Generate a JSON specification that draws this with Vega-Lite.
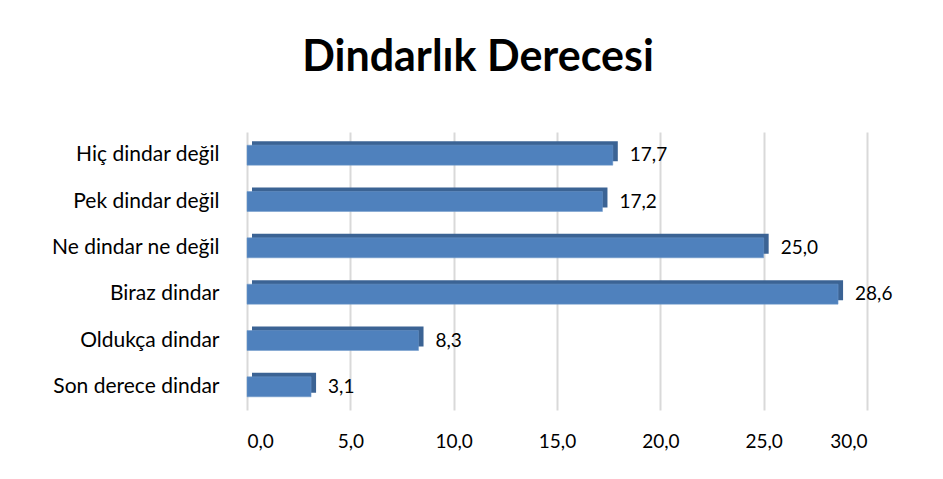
{
  "$schema": "https://vega.github.io/schema/vega-lite/v6.json",
  "width": 620,
  "height": 278,
  "padding": {"left": 47, "top": 37, "right": 5, "bottom": 5},
  "background": "white",
  "config": {
    "locale": {"number": {"decimal": ",", "thousands": ".", "grouping": [3], "currency": ["", " ₺"]}},
    "font": "Lato",
    "view": {"stroke": null}
  },
  "title": {
    "text": "Dindarlık Derecesi",
    "fontSize": 43,
    "fontWeight": "bold",
    "font": "Lato",
    "color": "#000000",
    "anchor": "middle",
    "dx": -79,
    "offset": 52
  },
  "data": {
    "values": [
      {"kategori": "Hiç dindar değil", "yuzde": 17.7},
      {"kategori": "Pek dindar değil", "yuzde": 17.2},
      {"kategori": "Ne dindar ne değil", "yuzde": 25.0},
      {"kategori": "Biraz dindar", "yuzde": 28.6},
      {"kategori": "Oldukça dindar", "yuzde": 8.3},
      {"kategori": "Son derece dindar", "yuzde": 3.1}
    ]
  },
  "encoding": {
    "y": {
      "field": "kategori",
      "type": "nominal",
      "sort": null,
      "title": null,
      "axis": {
        "domain": false,
        "ticks": false,
        "labelFontSize": 21,
        "labelColor": "#000000",
        "labelPadding": 28,
        "minExtent": 200,
        "maxExtent": 200,
        "labelFont": "Lato"
      }
    },
    "x": {
      "field": "yuzde",
      "type": "quantitative",
      "scale": {"domain": [0, 30], "nice": false},
      "title": null,
      "axis": {
        "values": [0, 5, 10, 15, 20, 25, 30],
        "format": ".1f",
        "domain": false,
        "ticks": false,
        "grid": true,
        "gridColor": "#D9D9D9",
        "gridWidth": 2,
        "labelFontSize": 19,
        "labelColor": "#000000",
        "labelPadding": 22,
        "labelFont": "Lato"
      }
    }
  },
  "layer": [
    {
      "mark": {"type": "bar", "size": 20, "color": "#3B6394", "xOffset": 5, "yOffset": -4}
    },
    {
      "mark": {"type": "bar", "size": 20, "color": "#4F81BD", "stroke": "#6E98CA", "strokeWidth": 0.5}
    },
    {
      "mark": {"type": "text", "align": "left", "dx": 17, "fontSize": 19, "color": "#000000", "font": "Lato"},
      "encoding": {"text": {"field": "yuzde", "type": "quantitative", "format": ".1f"}}
    }
  ]
}
